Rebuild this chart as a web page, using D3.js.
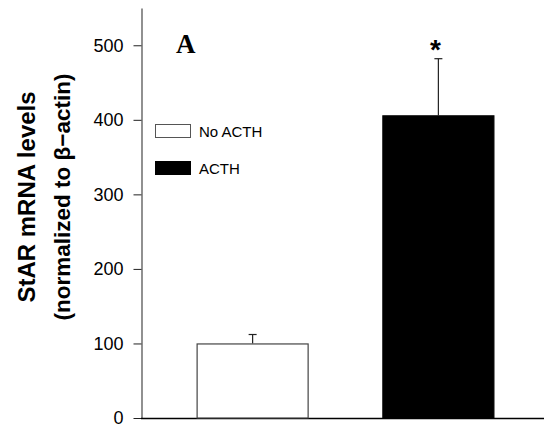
<!DOCTYPE html>
<html><head><meta charset="utf-8">
<script src="https://cdn.jsdelivr.net/npm/d3@7"></script>
<style>html,body{margin:0;padding:0;background:#fff}svg{display:block}</style>
</head><body>
<script>
const categories = ["No ACTH", "ACTH"];
const means = [100, 406];
const errors = [12, 76];
const fills = ["#ffffff", "#000000"];
const yTicks = [0, 100, 200, 300, 400, 500];
const significance = ["", "*"];

const W = 544, H = 428;
const svg = d3.select("body").append("svg").attr("width", W).attr("height", H);

const y = d3.scaleLinear().domain([0, 550]).range([418, 8]);
const x = d3.scaleBand().domain(categories).range([142, 549]).paddingInner(0.397).paddingOuter(0.294);

// y axis
const yAxis = svg.append("g").attr("transform", "translate(141.5,0)")
  .call(d3.axisLeft(y).tickValues(yTicks).tickSizeInner(8).tickSizeOuter(0).tickPadding(10).tickFormat(d3.format("d")));
yAxis.select(".domain").attr("stroke", "#555").attr("stroke-width", 1.3);
yAxis.selectAll(".tick line").attr("stroke", "#222");
yAxis.selectAll("text").attr("font-family", "Liberation Sans, Arial, sans-serif").attr("font-size", 18).attr("fill", "#000");

// x axis baseline
svg.append("line").attr("x1", 141).attr("x2", W).attr("y1", y(0) + 0.5).attr("y2", y(0) + 0.5)
  .attr("stroke", "#000").attr("stroke-width", 1.3);

const data = categories.map((c, i) => ({c, m: means[i], e: errors[i], f: fills[i], s: significance[i]}));

// error bars (up only)
const eb = svg.append("g");
data.forEach(d => {
  const cx = x(d.c) + x.bandwidth() / 2;
  eb.append("line").attr("x1", cx).attr("x2", cx).attr("y1", y(d.m)).attr("y2", y(d.m + d.e)).attr("stroke", "#222").attr("stroke-width", 1.2);
  eb.append("line").attr("x1", cx - 4).attr("x2", cx + 4).attr("y1", y(d.m + d.e)).attr("y2", y(d.m + d.e)).attr("stroke", "#222").attr("stroke-width", 1.2);
});

// bars
svg.append("g").selectAll("rect").data(data).join("rect")
  .attr("x", d => x(d.c) + 0.5).attr("y", d => y(d.m) + 0.5)
  .attr("width", x.bandwidth() - 1).attr("height", d => y(0) - y(d.m) - 0.5)
  .attr("fill", d => d.f).attr("stroke", d => d.f === "#000000" ? "#000" : "#444").attr("stroke-width", 1.2);

// significance
svg.append("g").selectAll("text").data(data.filter(d => d.s)).join("text")
  .attr("x", d => x(d.c) + x.bandwidth() / 2 - 3).attr("y", d => y(d.m + d.e) + 0.5)
  .attr("text-anchor", "middle").attr("font-family", "Liberation Sans, Arial, sans-serif")
  .attr("font-weight", "bold").attr("font-size", 28).text(d => d.s);

// panel label
svg.append("text").attr("x", 176).attr("y", 53).attr("font-family", "Liberation Serif, Times New Roman, serif")
  .attr("font-weight", "bold").attr("font-size", 27).text("A");

// legend
const lg = svg.append("g");
data.forEach((d, i) => {
  const ly = 124 + i * 37;
  lg.append("rect").attr("x", 155.5).attr("y", ly + 0.5).attr("width", 35).attr("height", 13)
    .attr("fill", d.f).attr("stroke", d.f === "#000000" ? "#000" : "#555").attr("stroke-width", 1);
  lg.append("text").attr("x", 199).attr("y", ly + 12.5).attr("font-family", "Liberation Sans, Arial, sans-serif")
    .attr("font-size", 15).text(d.c);
});

// y title
const t = svg.append("text").attr("transform", "translate(0,197) rotate(-90)")
  .attr("text-anchor", "middle").attr("font-family", "Liberation Sans, Arial, sans-serif")
  .attr("font-weight", "bold");
t.append("tspan").attr("x", 0).attr("y", 35).attr("font-size", 24).text("StAR mRNA levels");
t.append("tspan").attr("x", 0).attr("y", 70).attr("font-size", 22.5).text("(normalized to \u03B2\u2212actin)");
</script>
</body></html>
